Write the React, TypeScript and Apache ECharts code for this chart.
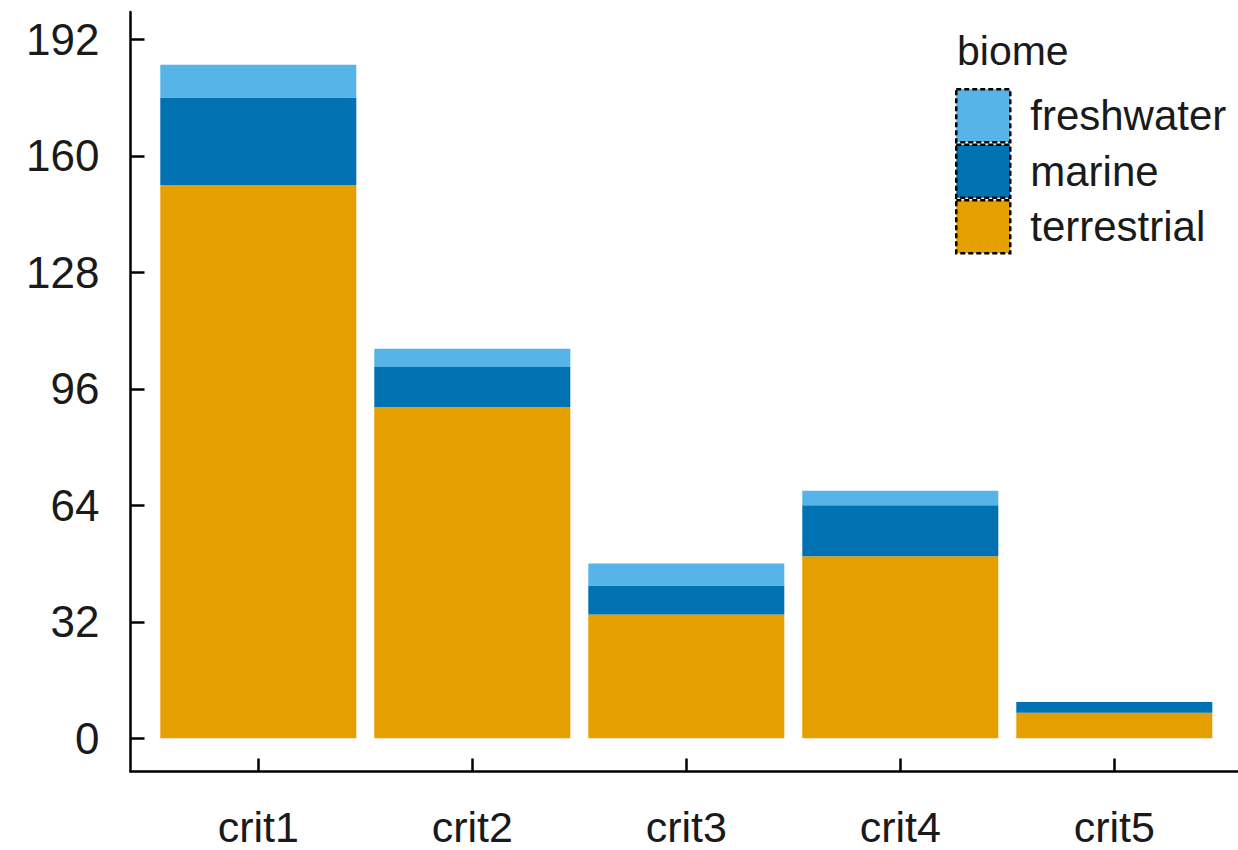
import React, { useEffect, useRef } from "react";
import * as echarts from "echarts";

const categories = ["crit1", "crit2", "crit3", "crit4", "crit5"];
const terrestrial = [152, 91, 34, 50, 7];
const marine = [24, 11, 8, 14, 3];
const freshwater = [9, 5, 6, 4, 0];
const yMin = 0;
const yMax = 192;
const yTicks = [0, 32, 64, 96, 128, 160, 192];
const legendTitle = "biome";

const COLORS = {
  freshwater: "#56B4E9",
  marine: "#0072B2",
  terrestrial: "#E69F00",
};
const FONT = "'Liberation Sans', Arial, sans-serif";
const TEXT = "#1a1a1a";

// layout (pixels)
const W = 1238;
const H = 850;
const DATA = { left: 151.3, right: 16.7, top: 39.3, bottom: 111.7 };
const FRAME = { left: 130.5, right: 0, top: 12, bottom: 78.5 };

export default function App() {
  const ref = useRef<HTMLDivElement>(null);
  useEffect(() => {
    if (!ref.current) return;
    const chart = echarts.init(ref.current, undefined, { renderer: "svg" });

    // derive frame-axis ranges so that they coincide with the data grid scales
    const dataH = H - DATA.top - DATA.bottom;
    const unit = dataH / (yMax - yMin);
    const frameYMin = yMin - (DATA.bottom - FRAME.bottom) / unit;
    const frameYMax = yMax + (DATA.top - FRAME.top) / unit;
    const dataW = W - DATA.left - DATA.right;
    const band = dataW / categories.length;
    const firstCenter = DATA.left + band / 2;
    const frameXMin = (FRAME.left - firstCenter) / band;
    const frameXMax = (W - FRAME.right - firstCenter) / band;
    const catIdx = categories.map((_, i) => i);

    const mk = (name: string, data: number[], color: string) => ({
      name,
      type: "bar",
      stack: "total",
      data,
      xAxisIndex: 0,
      yAxisIndex: 0,
      barCategoryGap: "8.4%",
      itemStyle: { color },
      emphasis: { disabled: true },
    });
    const tickStyle = { color: "#000", width: 2.5 };
    chart.setOption({
      animation: false,
      backgroundColor: "#ffffff",
      textStyle: { fontFamily: FONT, color: TEXT },
      grid: [
        { left: DATA.left, right: DATA.right, top: DATA.top, bottom: DATA.bottom },
        { left: FRAME.left, right: FRAME.right, top: FRAME.top, bottom: FRAME.bottom },
      ],
      xAxis: [
        { type: "category", gridIndex: 0, data: categories, show: false },
        {
          type: "value",
          gridIndex: 1,
          min: frameXMin,
          max: frameXMax,
          axisLine: { show: true, onZero: false, lineStyle: { color: "#000", width: 2.5 } },
          axisTick: { show: true, inside: true, length: 13, lineStyle: tickStyle, customValues: catIdx },
          axisLabel: {
            customValues: catIdx,
            fontSize: 43,
            lineHeight: 40,
            color: TEXT,
            fontFamily: FONT,
            margin: 35,
            formatter: (v: number) => categories[Math.round(v)] ?? "",
          },
          splitLine: { show: false },
        },
      ],
      yAxis: [
        { type: "value", gridIndex: 0, min: yMin, max: yMax, show: false },
        {
          type: "value",
          gridIndex: 1,
          min: frameYMin,
          max: frameYMax,
          axisLine: { show: true, onZero: false, lineStyle: { color: "#000", width: 2.5 } },
          axisTick: { show: true, inside: true, length: 14, lineStyle: tickStyle, customValues: yTicks },
          axisLabel: {
            customValues: yTicks,
            fontSize: 44,
            color: TEXT,
            fontFamily: FONT,
            margin: 31,
            formatter: (v: number) => String(Math.round(v)),
          },
          splitLine: { show: false },
        },
      ],
      legend: {
        orient: "vertical",
        left: 955,
        top: 88,
        padding: 0,
        itemWidth: 54,
        itemHeight: 53,
        itemGap: 0,
        icon: "rect",
        data: ["freshwater", "marine", "terrestrial"],
        itemStyle: { borderColor: "#000", borderWidth: 2.5, borderType: [5, 3] },
        textStyle: {
          fontSize: 42,
          lineHeight: 46,
          color: TEXT,
          fontFamily: FONT,
          padding: [0, 0, 0, 15],
        },
      },
      graphic: [
        {
          type: "text",
          left: 957,
          top: 30,
          style: { text: legendTitle, font: `41px ${FONT}`, fill: TEXT },
        },
      ],
      series: [
        mk("terrestrial", terrestrial, COLORS.terrestrial),
        mk("marine", marine, COLORS.marine),
        mk("freshwater", freshwater, COLORS.freshwater),
      ],
    });
    return () => chart.dispose();
  }, []);
  return (
    <div
      ref={ref}
      style={{ position: "absolute", left: 0, top: 0, width: W, height: H }}
    />
  );
}
